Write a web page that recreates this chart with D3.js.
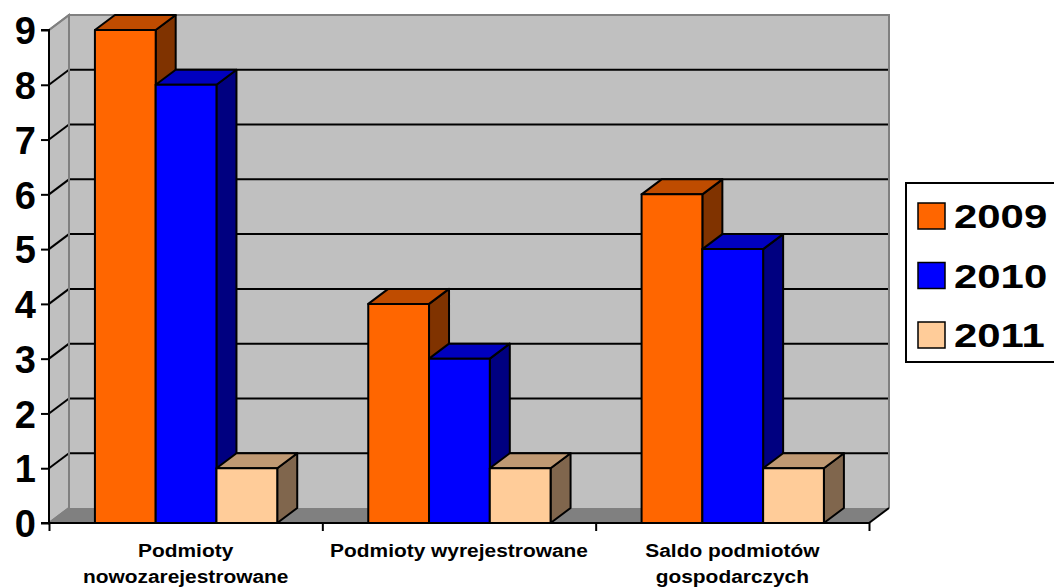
<!DOCTYPE html>
<html><head><meta charset="utf-8">
<script src="https://cdn.jsdelivr.net/npm/d3@7"></script>
<style>html,body{margin:0;padding:0;background:#fff;overflow:hidden}
text{font-family:'Liberation Sans',Arial,Helvetica,sans-serif;font-weight:bold}</style>
</head><body>
<svg id="c" width="1054" height="588"></svg>
<script>
const categories = [["Podmioty","nowozarejestrowane"],["Podmioty wyrejestrowane"],["Saldo podmiotów","gospodarczych"]];
const seriesNames = ["2009","2010","2011"];
const v2009 = [9, 4, 6];
const v2010 = [8, 3, 5];
const v2011 = [1, 1, 1];
const yTicks = [0,1,2,3,4,5,6,7,8,9];
const colors = [
  {front:"#FF6600", top:"#BF4C00", side:"#803300"},
  {front:"#0000FF", top:"#0000BF", side:"#000080"},
  {front:"#FFCC99", top:"#BF9973", side:"#80664D"}
];
const seriesVals = [v2009, v2010, v2011];

const svg = d3.select("#c");
svg.append("rect").attr("width",1054).attr("height",588).attr("fill","#fff");
const DX = 20, DY = -15;
const x0 = 49, x1 = 869;
const y = d3.scaleLinear().domain([0,9]).range([523,30]);
const xc = d3.scaleBand().domain(d3.range(categories.length)).range([x0,x1]).padding(0);
const bw = xc.bandwidth();
const xs = d3.scaleBand().domain(d3.range(seriesNames.length)).range([bw*0.168, bw*0.835]).padding(0);

const yTop = y(9), yBot = y(0);
const pt = (a)=>a.map(p=>p.join(",")).join(" ");
svg.append("polygon").attr("points",pt([[x0+DX,yTop+DY],[x1+DX,yTop+DY],[x1+DX,yBot+DY],[x0+DX,yBot+DY]]))
  .attr("fill","#C0C0C0");
svg.append("polygon").attr("points",pt([[x0,yTop],[x0+DX,yTop+DY],[x0+DX,yBot+DY],[x0,yBot]]))
  .attr("fill","#C0C0C0").attr("stroke","#808080").attr("stroke-width",2);
svg.append("polygon").attr("points",pt([[x0,yBot],[x0+DX,yBot+DY],[x1+DX,yBot+DY],[x1,yBot]]))
  .attr("fill","#808080");
yTicks.filter(t=>t>0 && t<9).forEach(t=>{
  svg.append("line").attr("x1",x0+DX).attr("x2",x1+DX).attr("y1",y(t)+DY).attr("y2",y(t)+DY)
    .attr("stroke","#000").attr("stroke-width",2);
  svg.append("line").attr("x1",x0).attr("x2",x0+DX).attr("y1",y(t)).attr("y2",y(t)+DY)
    .attr("stroke","#000").attr("stroke-width",2);
});
svg.append("polyline").attr("points",pt([[x0+DX,yBot+DY],[x0+DX,yTop+DY],[x1+DX,yTop+DY],[x1+DX,yBot+DY]]))
  .attr("fill","none").attr("stroke","#808080").attr("stroke-width",2);
svg.append("line").attr("x1",x0).attr("x2",x0+DX).attr("y1",yTop).attr("y2",yTop+DY).attr("stroke","#808080").attr("stroke-width",2);
svg.append("line").attr("x1",x0).attr("x2",x0+DX).attr("y1",yBot).attr("y2",yBot+DY).attr("stroke","#808080").attr("stroke-width",2);
svg.append("line").attr("x1",x1).attr("x2",x1+DX).attr("y1",yBot).attr("y2",yBot+DY).attr("stroke","#000").attr("stroke-width",2);

categories.forEach((c,ci)=>{
  seriesVals.forEach((vals,si)=>{
    const v = vals[ci];
    const l = xc(ci)+xs(si), r = l+xs.bandwidth();
    const t = y(v), b = y(0);
    const g = svg.append("g").attr("stroke","#000").attr("stroke-width",2).attr("stroke-linejoin","round");
    g.append("polygon").attr("points",pt([[r,t],[r+DX,t+DY],[r+DX,b+DY],[r,b]])).attr("fill",colors[si].side);
    g.append("polygon").attr("points",pt([[l,t],[l+DX,t+DY],[r+DX,t+DY],[r,t]])).attr("fill",colors[si].top);
    g.append("rect").attr("x",l).attr("y",t).attr("width",r-l).attr("height",b-t).attr("fill",colors[si].front);
  });
});

const yAxis = d3.axisLeft(y).tickValues(yTicks).tickSize(8).tickFormat(d3.format("d"));
const ya = svg.append("g").attr("transform",`translate(${x0},0)`).call(yAxis);
ya.attr("font-family",null).attr("font-size",null);
ya.select(".domain").attr("stroke","#000").attr("stroke-width",2).attr("d",`M-8,${yTop}H0V${yBot}H-8`);
ya.selectAll(".tick line").attr("stroke","#000").attr("stroke-width",2);
ya.selectAll(".tick text").attr("font-size",38).attr("fill","#000").attr("x",-13).attr("dy","0.36em");

const xAxis = d3.axisBottom(d3.scaleLinear().domain([0,3]).range([x0,x1])).tickValues([0,1,2,3]).tickSize(8).tickFormat("");
const xa = svg.append("g").attr("transform",`translate(0,${yBot})`).call(xAxis);
xa.select(".domain").attr("stroke","#000").attr("stroke-width",2).attr("d",`M${x0},0H${x1}`);
xa.selectAll(".tick line").attr("stroke","#000").attr("stroke-width",2);

categories.forEach((lines,ci)=>{
  const cx = xc(ci)+bw/2;
  lines.forEach((ln,li)=>{
    svg.append("text").attr("transform",`translate(${cx},${557+li*26}) scale(1.1,1)`)
      .attr("text-anchor","middle").attr("font-size",19).attr("fill","#000").text(ln);
  });
});

svg.append("rect").attr("x",906).attr("y",183).attr("width",200).attr("height",179)
  .attr("fill","#fff").attr("stroke","#000").attr("stroke-width",2);
seriesNames.forEach((s,i)=>{
  const cy = 216 + i*59.5;
  svg.append("rect").attr("x",918).attr("y",cy-13).attr("width",27).attr("height",26)
    .attr("fill",colors[i].front).attr("stroke","#000").attr("stroke-width",1.5);
  svg.append("text").attr("transform",`translate(954,${cy+12}) scale(1.27,1)`)
    .attr("font-size",33).attr("fill","#000").text(s);
});
</script>
</body></html>
